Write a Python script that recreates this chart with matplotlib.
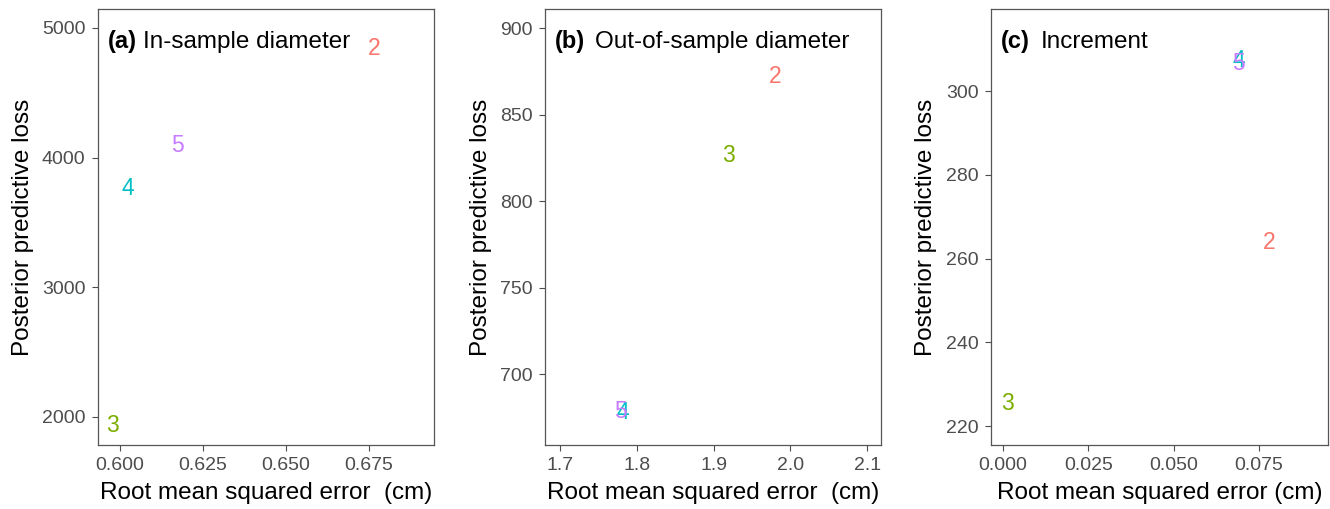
import matplotlib
matplotlib.use("Agg")
import matplotlib.pyplot as plt

plt.rcParams['font.family'] = ['Liberation Sans', 'DejaVu Sans']

models = ["2", "3", "4", "5"]
colors = ["#F8766D", "#7CAE00", "#00BFC4", "#C77CFF"]

# Panel (a) In-sample diameter
a_rmse = [0.6765, 0.5979, 0.6024, 0.6172]
a_ppl = [4838, 1938, 3759, 4090]
# Panel (b) Out-of-sample diameter
b_rmse = [1.980, 1.919, 1.781, 1.778]
b_ppl = [872, 826.5, 678, 678.5]
# Panel (c) Increment
c_rmse = [0.0779, 0.0012, 0.0691, 0.0690]
c_ppl = [263.8, 225.5, 307.3, 306.7]

panels = [
    dict(tag="(a)", title="In-sample diameter", x=a_rmse, y=a_ppl,
         xlim=(0.5934, 0.6946), ylim=(1784, 5146),
         xticks=[0.600, 0.625, 0.650, 0.675], xfmt="{:.3f}",
         yticks=[2000, 3000, 4000, 5000], yfmt="{:.0f}",
         xlabel="Root mean squared error  (cm)", pos=(98, 434), gap=6),
    dict(tag="(b)", title="Out-of-sample diameter", x=b_rmse, y=b_ppl,
         xlim=(1.680, 2.118), ylim=(659, 911),
         xticks=[1.7, 1.8, 1.9, 2.0, 2.1], xfmt="{:.1f}",
         yticks=[700, 750, 800, 850, 900], yfmt="{:.0f}",
         xlabel="Root mean squared error  (cm)", pos=(545, 881), gap=10),
    dict(tag="(c)", title="Increment", x=c_rmse, y=c_ppl,
         xlim=(-0.0035, 0.0952), ylim=(215.5, 319.6),
         xticks=[0.000, 0.025, 0.050, 0.075], xfmt="{:.3f}",
         yticks=[220, 240, 260, 280, 300], yfmt="{:.0f}",
         xlabel="Root mean squared error (cm)", pos=(991, 1328), gap=11),
]

W, H = 1330, 509
fig = plt.figure(figsize=(W / 100, H / 100), dpi=100)
top_px, bot_px = 9, 445
renderer = fig.canvas.get_renderer()

for p in panels:
    l, r = p["pos"]
    ax = fig.add_axes([l / W, 1 - bot_px / H, (r - l) / W, (bot_px - top_px) / H])
    for xi, yi, m, c in zip(p["x"], p["y"], models, colors):
        ax.text(xi, yi, m, color=c, fontsize=16.5, ha="center", va="center")
    ax.set_xlim(*p["xlim"])
    ax.set_ylim(*p["ylim"])
    ax.set_xticks(p["xticks"])
    ax.set_xticklabels([p["xfmt"].format(v) for v in p["xticks"]])
    ax.set_yticks(p["yticks"])
    ax.set_yticklabels([p["yfmt"].format(v) for v in p["yticks"]])
    ax.tick_params(colors="#4D4D4D", labelsize=14, length=4.5, width=0.8, pad=4)
    ax.tick_params(axis="y", pad=4.5)
    for s in ax.spines.values():
        s.set_color("#555555")
        s.set_linewidth(0.9)
    ax.set_xlabel(p["xlabel"], fontsize=17.5, color="black", labelpad=6)
    ax.set_ylabel("Posterior predictive loss", fontsize=17.5, color="black", labelpad=6)
    t = ax.text(0.03, 0.925, p["tag"], transform=ax.transAxes, fontsize=17,
                fontweight="bold", ha="left", va="center")
    wpx = t.get_window_extent(renderer=renderer).width
    ax.annotate(p["title"], xy=(0.03, 0.925), xycoords=ax.transAxes,
                xytext=((wpx + p["gap"]) * 72 / 100, 0), textcoords="offset points",
                fontsize=17.5, ha="left", va="center")

fig.savefig("out.png", dpi=100, facecolor="white")
